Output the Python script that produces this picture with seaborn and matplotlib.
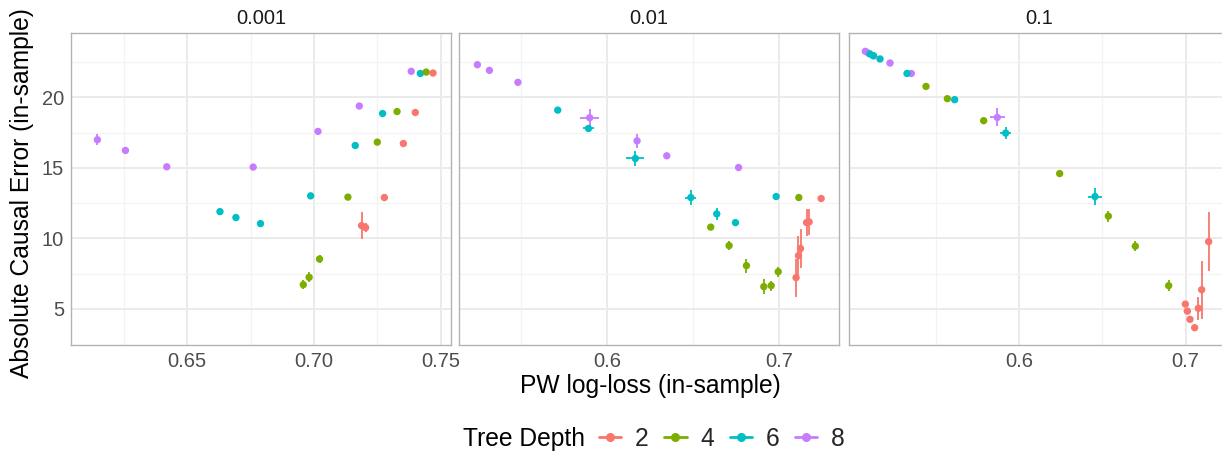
import numpy as np
import pandas as pd
import seaborn as sns
import matplotlib.pyplot as plt
from matplotlib.lines import Line2D
from matplotlib.ticker import FixedLocator

# learning-rate facets
facets = ["0.001", "0.01", "0.1"]
depths = [2, 4, 6, 8]
colors = ["#F8766D", "#7CAE00", "#00BFC4", "#C77CFF"]

# ---- panel 0.001 ----
p1_depth = [8] * 7 + [6] * 7 + [4] * 7 + [2] * 6
p1_loss = [0.6145, 0.6256, 0.6419, 0.676, 0.7016, 0.7179, 0.7384,
           0.6629, 0.6692, 0.6789, 0.6987, 0.7163, 0.7271, 0.742,
           0.6958, 0.6981, 0.7022, 0.7134, 0.725, 0.7328, 0.7443,
           0.7188, 0.7204, 0.7278, 0.7353, 0.740, 0.747]
p1_err = [17.0, 16.24, 15.08, 15.06, 17.59, 19.39, 21.85,
          11.9, 11.48, 11.05, 13.02, 16.59, 18.86, 21.7,
          6.72, 7.24, 8.54, 12.93, 16.83, 19.0, 21.8,
          10.91, 10.77, 12.9, 16.73, 18.93, 21.73]
p1_xerr = [0.0015, 0.001, 0, 0, 0, 0, 0,
           0, 0, 0, 0, 0, 0, 0,
           0, 0, 0, 0, 0, 0, 0,
           0, 0, 0, 0, 0, 0]
p1_yerr = [0.4, 0.2, 0, 0, 0, 0, 0,
           0.1, 0, 0, 0, 0, 0, 0,
           0.3, 0.35, 0.3, 0, 0, 0, 0,
           0.95, 0.3, 0, 0, 0, 0]

# ---- panel 0.01 ----
p2_depth = [8] * 7 + [6] * 7 + [4] * 7 + [2] * 6
p2_loss = [0.5245, 0.5315, 0.5481, 0.5899, 0.6175, 0.6348, 0.6766,
           0.5713, 0.5892, 0.6165, 0.6488, 0.6639, 0.6748, 0.6985,
           0.6604, 0.6711, 0.6812, 0.6913, 0.6956, 0.6997, 0.7117,
           0.7101, 0.7115, 0.7127, 0.7162, 0.7177, 0.7247]
p2_err = [22.32, 21.92, 21.07, 18.56, 16.92, 15.86, 15.03,
          19.1, 17.8, 15.67, 12.9, 11.74, 11.12, 12.97,
          10.8, 9.49, 8.07, 6.58, 6.65, 7.64, 12.9,
          7.22, 8.78, 9.28, 11.12, 11.17, 12.83]
p2_xerr = [0, 0, 0, 0.0054, 0.001, 0, 0,
           0.0015, 0.003, 0.0052, 0.0033, 0, 0, 0,
           0.0015, 0.001, 0, 0, 0, 0, 0,
           0, 0, 0, 0, 0, 0]
p2_yerr = [0, 0, 0.2, 0.64, 0.52, 0, 0,
           0, 0.25, 0.52, 0.52, 0.45, 0.2, 0,
           0.2, 0.3, 0.5, 0.55, 0.35, 0.35, 0,
           1.35, 1.4, 1.4, 0.98, 0.9, 0]

# ---- panel 0.1 ----
p3_depth = [8] * 6 + [6] * 7 + [4] * 7 + [2] * 7
p3_loss = [0.5078, 0.5095, 0.5128, 0.5226, 0.5354, 0.587,
           0.5106, 0.5126, 0.5166, 0.5328, 0.5614, 0.592, 0.6456,
           0.5442, 0.557, 0.5788, 0.6244, 0.6536, 0.6698, 0.6898,
           0.6998, 0.701, 0.7026, 0.7054, 0.7076, 0.7096, 0.7138]
p3_err = [23.27, 23.15, 22.95, 22.44, 21.7, 18.58,
          23.08, 22.96, 22.73, 21.7, 19.84, 17.47, 12.97,
          20.78, 19.91, 18.35, 14.6, 11.58, 9.45, 6.65,
          5.34, 4.84, 4.26, 3.67, 5.04, 6.36, 9.77]
p3_xerr = [0, 0, 0, 0, 0, 0.0044,
           0, 0, 0, 0, 0.0015, 0.0033, 0.0045,
           0, 0, 0, 0, 0, 0, 0,
           0, 0, 0, 0, 0, 0, 0]
p3_yerr = [0, 0, 0, 0, 0, 0.64,
           0, 0, 0, 0, 0, 0.4, 0.6,
           0, 0, 0, 0, 0.4, 0.35, 0.4,
           0, 0, 0, 0, 0.83, 2.05, 2.1]

panels = [
    (p1_depth, p1_loss, p1_err, p1_xerr, p1_yerr),
    (p2_depth, p2_loss, p2_err, p2_xerr, p2_yerr),
    (p3_depth, p3_loss, p3_err, p3_xerr, p3_yerr),
]
xlims = [(0.6041, 0.7541), (0.5138, 0.7351), (0.498, 0.726)]
xmajor = [[0.65, 0.70, 0.75], [0.6, 0.7], [0.6, 0.7]]
xlabels = [["0.65", "0.70", "0.75"], ["0.6", "0.7"], ["0.6", "0.7"]]
xminor = [[0.625, 0.675, 0.725], [0.55, 0.65], [0.55, 0.65]]

sns.set_theme(style="white")
plt.rcParams["font.family"] = ["Liberation Sans", "DejaVu Sans"]

W, H = 1222, 455
fig = plt.figure(figsize=(W / 100, H / 100), dpi=100)
palette = dict(zip(depths, colors))

lefts = [71, 459, 849]
for i, (dep, loss, err, xe, ye) in enumerate(panels):
    ax = fig.add_axes([lefts[i] / W, (H - 345) / H, 380 / W, 312 / H])
    df = pd.DataFrame({"depth": dep, "loss": loss, "err": err, "xerr": xe, "yerr": ye})
    for d in [8, 6, 4, 2]:
        sub = df[df["depth"] == d]
        ax.errorbar(sub["loss"], sub["err"], xerr=sub["xerr"], yerr=sub["yerr"],
                    fmt="none", ecolor=palette[d], elinewidth=1.3, capsize=0, zorder=2)
    sns.scatterplot(data=df, x="loss", y="err", hue="depth", palette=palette,
                    s=28, linewidth=0, legend=False, ax=ax, zorder=3)
    ax.set_xlim(*xlims[i])
    ax.set_ylim(2.44, 24.57)
    ax.xaxis.set_major_locator(FixedLocator(xmajor[i]))
    ax.xaxis.set_minor_locator(FixedLocator(xminor[i]))
    ax.set_xticklabels(xlabels[i])
    ax.yaxis.set_major_locator(FixedLocator([5, 10, 15, 20]))
    ax.yaxis.set_minor_locator(FixedLocator([7.5, 12.5, 17.5, 22.5]))
    ax.grid(which="major", color="#ebebeb", linewidth=1.4)
    ax.grid(which="minor", color="#f3f3f3", linewidth=0.9)
    ax.set_axisbelow(True)
    ax.tick_params(which="both", length=0, labelsize=14.5, labelcolor="#4d4d4d", pad=5)
    if i > 0:
        ax.set_yticklabels([])
    ax.set_xlabel("")
    ax.set_ylabel("")
    for sp in ax.spines.values():
        sp.set_color("#b3b3b3")
        sp.set_linewidth(1.0)
    fig.text((lefts[i] + 190) / W, 1 - 18 / H, facets[i], ha="center", va="center",
             fontsize=14.5, color="#1a1a1a")

fig.text(650 / W, 1 - 386 / H, "PW log-loss (in-sample)", ha="center", va="center",
         fontsize=17.7, color="black")
fig.text(22 / W, 1 - 193 / H, "Absolute Causal Error (in-sample)", ha="center",
         va="center", rotation=90, fontsize=17.7, color="black")

# legend
fig.text(585 / W, 1 - 439 / H, "Tree Depth", ha="right", va="center",
         fontsize=17.7, color="black")
handles = [Line2D([0], [0], color=c, lw=2, marker="o", markersize=5.5) for c in colors]
fig.legend(handles, [str(d) for d in depths], ncol=4, loc="center left",
           bbox_to_anchor=(599 / W, 1 - 439 / H), frameon=False, fontsize=17.7,
           handlelength=0.9, handletextpad=0.55, columnspacing=0.65,
           borderpad=0, borderaxespad=0)

fig.savefig("out.png", dpi=100)
